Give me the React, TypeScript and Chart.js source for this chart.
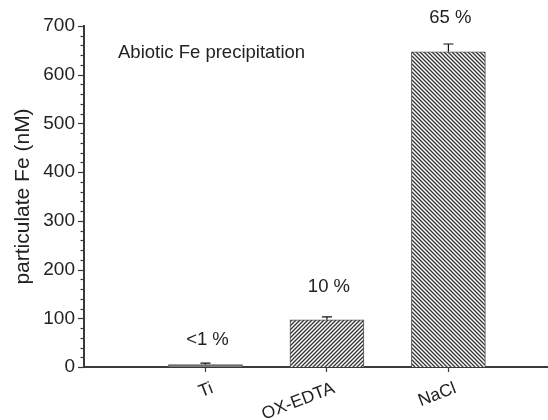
import { useEffect, useRef } from 'react';
import { Chart, registerables } from 'chart.js';

Chart.register(...registerables);

const categories = ['Ti', 'OX-EDTA', 'NaCl'];
const categoryPositions = [1, 2, 3];
const values = [5, 97, 647];
const errors = [3, 6, 16];
const percentLabels = ['<1 %', '10 %', '65 %'];
const percentLabelValues = [55, 164, 717];
const panelTitle = 'Abiotic Fe precipitation';
const yAxisTitle = 'particulate Fe (nM)';
const yMin = 0;
const yMax = 700;
const yMajorStep = 100;
const yMinorStep = 20;
const xMin = 0;
const xMax = 3.82;

const FONT = '"Liberation Sans", Arial, Helvetica, sans-serif';
const TEXT = '#222';
const AXIS = '#3a3a3a';

function makeHatch(dir: 'up' | 'down') {
  const s = 4;
  const c = document.createElement('canvas');
  c.width = s;
  c.height = s;
  const g = c.getContext('2d')!;
  g.fillStyle = '#ffffff';
  g.fillRect(0, 0, s, s);
  g.strokeStyle = '#333';
  g.lineWidth = 1.3;
  g.beginPath();
  for (let k = -1; k <= 1; k++) {
    if (dir === 'up') {
      g.moveTo(k * s - 1, s + 1);
      g.lineTo(k * s + s + 1, -1);
    } else {
      g.moveTo(k * s - 1, -1);
      g.lineTo(k * s + s + 1, s + 1);
    }
  }
  g.stroke();
  return g.createPattern(c, 'repeat')!;
}

export default function App() {
  const ref = useRef<HTMLCanvasElement | null>(null);

  useEffect(() => {
    document.body.style.margin = '0';
    const canvas = ref.current!;
    const ctx = canvas.getContext('2d')!;
    const fills: (string | CanvasPattern)[] = ['#7a7a7a', makeHatch('up'), makeHatch('down')];

    const decor = {
      id: 'decor',
      afterDatasetsDraw(chart: any) {
        const c = chart.ctx;
        const xs = chart.scales.x;
        const ys = chart.scales.y;
        const area = chart.chartArea;
        c.save();
        // error bars
        c.strokeStyle = '#111';
        c.lineWidth = 1.2;
        categoryPositions.forEach((p, i) => {
          const x = xs.getPixelForValue(p);
          const y0 = ys.getPixelForValue(values[i]);
          const y1 = ys.getPixelForValue(values[i] + errors[i]);
          c.beginPath();
          c.moveTo(x, y0);
          c.lineTo(x, y1);
          c.moveTo(x - 5, y1);
          c.lineTo(x + 5, y1);
          c.stroke();
        });
        // y ticks
        c.strokeStyle = AXIS;
        c.lineWidth = 1.2;
        for (let v = yMin; v <= yMax; v += yMinorStep) {
          const y = Math.round(ys.getPixelForValue(v)) + 0.5;
          const len = v % yMajorStep === 0 ? 6 : 3.5;
          c.beginPath();
          c.moveTo(area.left, y);
          c.lineTo(area.left - len, y);
          c.stroke();
        }
        // percent labels
        c.fillStyle = TEXT;
        c.font = `18.5px ${FONT}`;
        c.textAlign = 'center';
        c.textBaseline = 'middle';
        categoryPositions.forEach((p, i) => {
          c.fillText(percentLabels[i], xs.getPixelForValue(p) + 2, ys.getPixelForValue(percentLabelValues[i]));
        });
        // panel title
        c.textAlign = 'left';
        c.fillText(panelTitle, area.left + 34, area.top + 27);
        c.restore();
      },
    };

    const chart = new Chart(ctx, {
      type: 'bar',
      data: {
        datasets: [
          {
            data: categoryPositions.map((p, i) => ({ x: p, y: values[i] })),
            backgroundColor: fills as any,
            borderColor: '#555',
            borderWidth: 1,
            barThickness: 74,
          },
        ],
      },
      options: {
        animation: false,
        responsive: false,
        layout: { padding: { top: 26, right: 0, left: 0, bottom: 0 } },
        plugins: { legend: { display: false }, tooltip: { enabled: false } },
        scales: {
          x: {
            type: 'linear',
            offset: false,
            min: xMin,
            max: xMax,
            afterBuildTicks: (s: any) => {
              s.ticks = categoryPositions.map((v) => ({ value: v }));
            },
            afterFit: (s: any) => {
              s.height = 53;
            },
            ticks: {
              autoSkip: false,
              minRotation: 21,
              maxRotation: 21,
              padding: 6,
              labelOffset: 7,
              color: TEXT,
              font: { family: FONT, size: 17.5 },
              callback: (v: any) => {
                const i = categoryPositions.indexOf(Number(v));
                return i >= 0 ? categories[i] : '';
              },
            },
            grid: { display: true, offset: false, drawOnChartArea: false, tickLength: 5, tickColor: AXIS, tickWidth: 1.2 },
            border: { display: true, color: AXIS, width: 2 },
          },
          y: {
            min: yMin,
            max: yMax,
            afterFit: (s: any) => {
              s.width = 84;
            },
            ticks: {
              stepSize: yMajorStep,
              padding: 9,
              color: TEXT,
              font: { family: FONT, size: 19 },
            },
            grid: { display: false, drawTicks: false },
            border: { display: true, color: AXIS, width: 2 },
            title: {
              display: true,
              text: yAxisTitle,
              color: TEXT,
              font: { family: FONT, size: 21, weight: 'normal' },
              padding: { top: 11, bottom: 0 },
            },
          },
        },
      },
      plugins: [decor],
    });
    return () => chart.destroy();
  }, []);

  return <canvas ref={ref} width={548} height={420} style={{ display: 'block' }} />;
}
